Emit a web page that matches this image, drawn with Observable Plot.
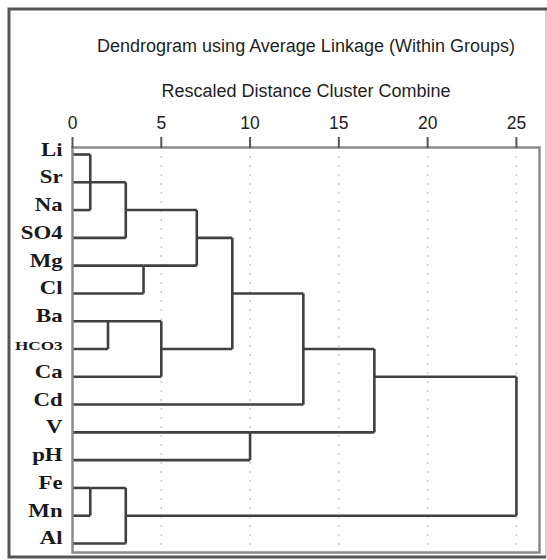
<!DOCTYPE html>
<html><head><meta charset="utf-8">
<script src="https://cdn.jsdelivr.net/npm/d3@7"></script>
<script src="https://cdn.jsdelivr.net/npm/@observablehq/plot@0.6"></script>
<style>body{margin:0;background:#fff}svg{display:block}</style>
</head><body><div id="chart"></div>
<script>
const title = "Dendrogram using Average Linkage (Within Groups)";
const subtitle = "Rescaled Distance Cluster Combine";
const leaves = ["Li","Sr","Na","SO4","Mg","Cl","Ba","HCO3","Ca","Cd","V","pH","Fe","Mn","Al"];
const xTicks = [0, 5, 10, 15, 20, 25];
// merges in order; "cK" refers to the K-th merge
const mergeChildren = [
  ["Li","Sr","Na"], ["Fe","Mn"], ["Ba","HCO3"], ["c0","SO4"], ["c1","Al"],
  ["Mg","Cl"], ["c2","Ca"], ["c3","c5"], ["c7","c6"], ["V","pH"],
  ["c8","Cd"], ["c10","c9"], ["c11","c4"]
];
const mergeDistances = [1, 1, 2, 3, 3, 4, 5, 7, 9, 10, 13, 17, 25];

// build segments (SPSS style: node row = floor of mid row)
const row = {}, xpos = {};
leaves.forEach((l, i) => { row[l] = i; xpos[l] = 0; });
const segs = [];
mergeChildren.forEach((ch, k) => {
  const d = mergeDistances[k];
  const rows = ch.map(c => row[c]);
  const lo = d3.min(rows), hi = d3.max(rows);
  ch.forEach(c => segs.push({x1: xpos[c], x2: d, y1: row[c], y2: row[c]}));
  segs.push({x1: d, x2: d, y1: lo, y2: hi});
  row["c" + k] = Math.floor((lo + hi) / 2);
  xpos["c" + k] = d;
});

const sans = "Liberation Sans, Arial, sans-serif";
const plot = Plot.plot({
  width: 547, height: 560,
  marginTop: 147, marginLeft: 72, marginRight: 8, marginBottom: 8,
  x: {domain: [0, 26.3]},
  y: {domain: [-0.252, 14.324], reverse: true, axis: null},
  style: {background: "#fff", fontFamily: sans},
  marks: [
    Plot.ruleX(xTicks.slice(1), {stroke: "#c4c4c4", strokeDasharray: "2,7", strokeWidth: 1.3}),
    Plot.link(segs, {x1: "x1", y1: "y1", x2: "x2", y2: "y2", stroke: "#404040", strokeWidth: 2.6}),
    Plot.frame({stroke: "#8a8a8a", strokeWidth: 2.5}),
    Plot.axisX(xTicks, {anchor: "top", tickSize: 11, tickPadding: 8, fontSize: 17.5,
      stroke: "#555", strokeWidth: 2, fill: "#222", label: null}),
    Plot.text(leaves, {x: 0, y: (d, i) => i, text: d => d, textAnchor: "end", lineAnchor: "bottom",
      dx: -10, dy: 1, fontSize: d => d === "HCO3" ? 13.5 : 18, fontWeight: "bold",
      fontFamily: "Liberation Serif, Times New Roman, serif", fill: "#1a1a1a", className: "leaflabels"}),
    Plot.text([title], {frameAnchor: "top", lineAnchor: "bottom", dy: -96, fontSize: 18, fill: "#1f1f1f"}),
    Plot.text([subtitle], {frameAnchor: "top", lineAnchor: "bottom", dy: -51, fontSize: 18, fill: "#1f1f1f"})
  ]
});

// stretch leaf labels horizontally about their right anchor
const x0 = plot.scale("x").apply(0) - 10;
d3.select(plot).selectAll("g.leaflabels").each(function() {
  const t = this.getAttribute("transform") || "";
  this.setAttribute("transform", `translate(${x0},0) scale(1.27,1) translate(${-x0},0) ${t}`);
});

// outer frame
const svg = d3.select(plot);
svg.append("line").attr("x1", 546).attr("x2", 546).attr("y1", 9).attr("y2", 557)
  .attr("stroke", "#c8c8c8").attr("stroke-width", 1.5);
svg.append("path").attr("d", "M547,9 H9 V557 H546").attr("fill", "none")
  .attr("stroke", "#555").attr("stroke-width", 3);
document.getElementById("chart").append(plot);
</script>
</body></html>
